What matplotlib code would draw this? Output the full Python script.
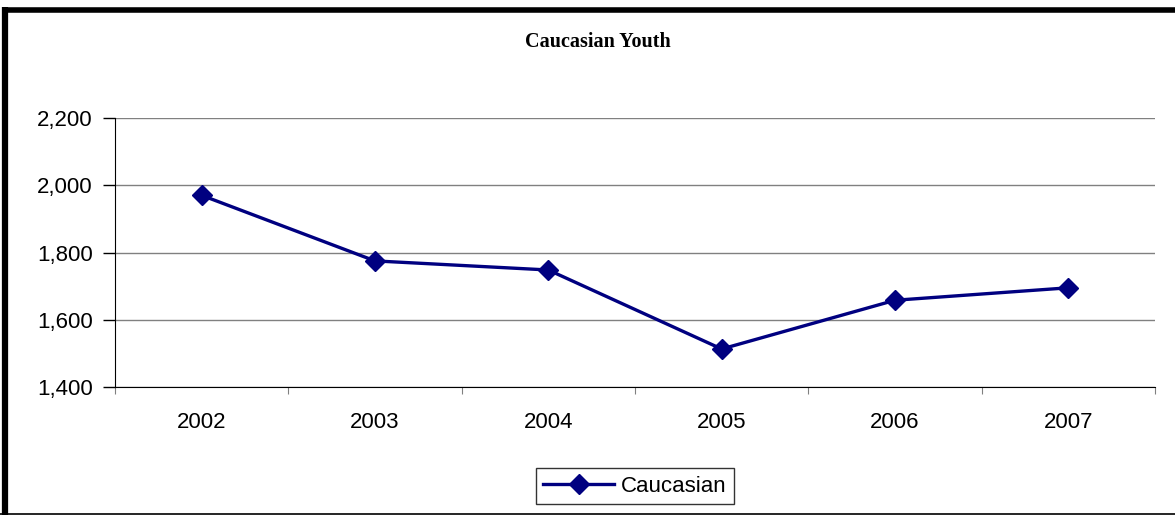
import matplotlib.pyplot as plt
from matplotlib.lines import Line2D
import numpy as np

# data
years = ['2002', '2003', '2004', '2005', '2006', '2007']
caucasian = [1970, 1775, 1748, 1513, 1658, 1695]
yticks = [1400, 1600, 1800, 2000, 2200]

fig = plt.figure(figsize=(11.75, 5.15), dpi=100)
ax = fig.add_axes([115/1175, 1 - 387/515, 1040/1175, 269/515])

x = np.arange(len(years))
ax.plot(x, caucasian, color='#000080', lw=2.4, marker='D', markersize=10,
        label='Caucasian', zorder=3)

ax.set_ylim(1400, 2200)
ax.set_yticks(yticks)
ax.set_yticklabels(['{:,}'.format(v) for v in yticks])
ax.yaxis.grid(True, color='#808080', lw=1)
ax.set_axisbelow(True)

ax.set_xlim(-0.5, len(years) - 0.5)
ax.set_xticks(np.arange(-0.5, len(years)), labels=[''] * (len(years) + 1))
ax.set_xticks(x, labels=years, minor=True)
ax.tick_params(axis='x', which='major', direction='out', length=5, color='#808080')
ax.tick_params(axis='x', which='minor', length=0, pad=18, labelsize=16)
ax.tick_params(axis='y', direction='out', length=9, width=1, labelsize=16, pad=7)

for s in ['top', 'right']:
    ax.spines[s].set_visible(False)
ax.spines['left'].set_color('black')
ax.spines['bottom'].set_color('black')

for lab in ax.get_xticklabels(minor=True) + ax.get_yticklabels():
    lab.set_fontfamily('Liberation Sans')

fig.text(598/1175, 1 - 42/515, 'Caucasian Youth', ha='center', va='center',
         fontsize=14.5, fontweight='bold', family='Liberation Serif')

leg = fig.legend(loc='center', bbox_to_anchor=(635/1175, 1 - 486/515),
                 frameon=True, fancybox=False, edgecolor='black',
                 prop={'family': 'Liberation Sans', 'size': 16},
                 handlelength=3.2, borderpad=0.35, handletextpad=0.3)
leg.get_frame().set_linewidth(1)

# chart border
fig.add_artist(Line2D([5/1175, 5/1175], [0, 1 - 7/515], color='black', lw=4.5,
                      solid_capstyle='butt', transform=fig.transFigure))
fig.add_artist(Line2D([2/1175, 1], [1 - 9.5/515, 1 - 9.5/515], color='black', lw=4,
                      solid_capstyle='butt', transform=fig.transFigure))
fig.add_artist(Line2D([0, 1], [1.5/515, 1.5/515], color='black', lw=1.2,
                      solid_capstyle='butt', transform=fig.transFigure))

fig.savefig('out.png', dpi=100)
